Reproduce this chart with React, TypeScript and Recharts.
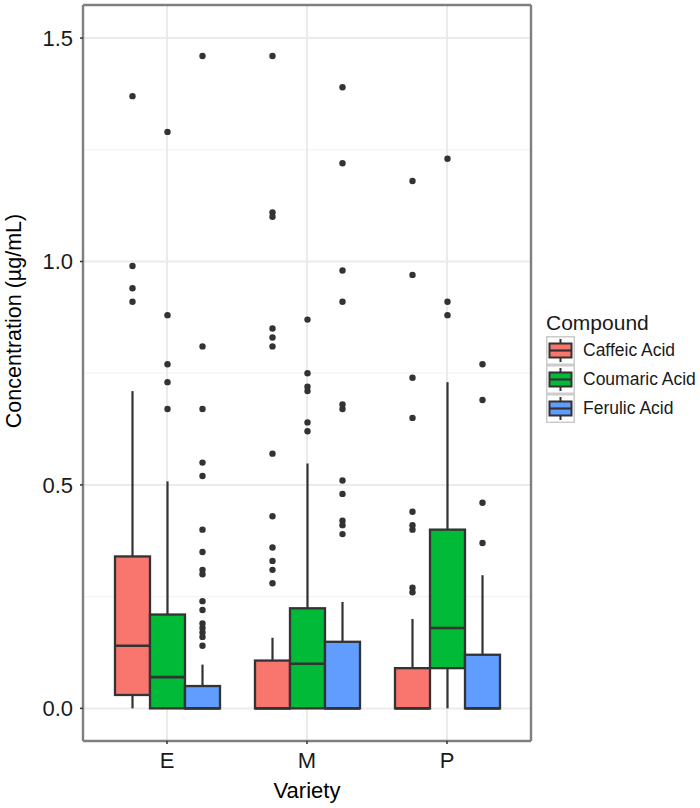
import {
  ComposedChart,
  Bar,
  XAxis,
  YAxis,
  CartesianGrid,
  Legend,
  Label,
} from 'recharts';

const FONT = '"Liberation Sans", Arial, Helvetica, sans-serif';

const VARIETIES = ['E', 'M', 'P'];

// [lower whisker, q1, median, q3, upper whisker] per variety
const CAFFEIC_STATS = [
  [0, 0.03, 0.14, 0.34, 0.71],
  [0, 0, 0, 0.107, 0.158],
  [0, 0, 0, 0.09, 0.2],
];
const COUMARIC_STATS = [
  [0, 0, 0.07, 0.21, 0.508],
  [0, 0, 0.1, 0.224, 0.548],
  [0, 0.09, 0.18, 0.4, 0.73],
];
const FERULIC_STATS = [
  [0, 0, 0, 0.05, 0.098],
  [0, 0, 0, 0.149, 0.238],
  [0, 0, 0, 0.12, 0.298],
];

const CAFFEIC_OUTLIERS = [
  [1.37, 0.99, 0.94, 0.91],
  [1.46, 1.11, 1.1, 0.85, 0.83, 0.81, 0.57, 0.43, 0.36, 0.33, 0.31, 0.28],
  [1.18, 0.97, 0.74, 0.65, 0.44, 0.41, 0.4, 0.27, 0.26],
];
const COUMARIC_OUTLIERS = [
  [1.29, 0.88, 0.77, 0.73, 0.67],
  [0.87, 0.75, 0.72, 0.71, 0.64, 0.62],
  [1.23, 0.91, 0.88],
];
const FERULIC_OUTLIERS = [
  [1.46, 0.81, 0.67, 0.55, 0.52, 0.4, 0.35, 0.31, 0.3, 0.24, 0.22, 0.19, 0.18, 0.17, 0.16, 0.14],
  [1.39, 1.22, 0.98, 0.91, 0.68, 0.67, 0.51, 0.48, 0.42, 0.41, 0.39],
  [0.77, 0.69, 0.46, 0.37],
];

const Y_TICKS = [0, 0.5, 1, 1.5];
const Y_MINOR = [0.25, 0.75, 1.25];
const Y_DOMAIN = [-0.073, 1.574];

const COMPOUNDS = [
  { key: 'caffeic', label: 'Caffeic Acid', color: '#F8766D', stats: CAFFEIC_STATS, outliers: CAFFEIC_OUTLIERS },
  { key: 'coumaric', label: 'Coumaric Acid', color: '#00BA38', stats: COUMARIC_STATS, outliers: COUMARIC_OUTLIERS },
  { key: 'ferulic', label: 'Ferulic Acid', color: '#619CFF', stats: FERULIC_STATS, outliers: FERULIC_OUTLIERS },
];

const data = VARIETIES.map((variety, i) => {
  const row: any = { variety };
  COMPOUNDS.forEach((c) => {
    const [lo, q1, med, q3, hi] = c.stats[i];
    row[c.key] = [lo, hi];
    row[c.key + 'Box'] = { lo, q1, med, q3, hi, out: c.outliers[i] };
  });
  return row;
});

const LINE = '#333333';
const BORDER = { stroke: '#7f7f7f', strokeWidth: 2.4 };

// draws whiskers, box, median and outliers inside the range bar's scale
function boxShape(key: string, color: string) {
  return (props: any) => {
    const { x, y, width, height, payload } = props;
    const s = payload[key + 'Box'];
    const top = Math.min(y, y + height);
    const bot = Math.max(y, y + height);
    const k = (bot - top) / (s.hi - s.lo);
    const py = (v: number) => bot - (v - s.lo) * k;
    const cx = x + width / 2;
    return (
      <g>
        <line x1={cx} x2={cx} y1={py(s.hi)} y2={py(s.q3)} stroke={LINE} strokeWidth={2.2} />
        <line x1={cx} x2={cx} y1={py(s.q1)} y2={py(s.lo)} stroke={LINE} strokeWidth={2.2} />
        <rect
          x={x}
          y={py(s.q3)}
          width={width}
          height={py(s.q1) - py(s.q3)}
          fill={color}
          stroke={LINE}
          strokeWidth={2.3}
        />
        <line x1={x} x2={x + width} y1={py(s.med)} y2={py(s.med)} stroke={LINE} strokeWidth={2.6} />
        {s.out.map((v: number, i: number) => (
          <circle key={i} cx={cx} cy={py(v)} r={3.2} fill={LINE} />
        ))}
      </g>
    );
  };
}

function LegendKey({ color }: { color: string }) {
  return (
    <svg width={29} height={29} style={{ display: 'block' }}>
      <rect x={0.75} y={0.75} width={27.5} height={27.5} fill="#fff" stroke="#cccccc" strokeWidth={1.5} />
      <line x1={14.5} x2={14.5} y1={3} y2={26} stroke={LINE} strokeWidth={2} />
      <rect x={3.5} y={7.5} width={22} height={14} fill={color} stroke={LINE} strokeWidth={2} />
      <line x1={3.5} x2={25.5} y1={14.5} y2={14.5} stroke={LINE} strokeWidth={2.2} />
    </svg>
  );
}

const renderLegend = () => (
  <div style={{ fontFamily: FONT, color: '#1a1a1a' }}>
    <div style={{ fontSize: 21, lineHeight: '26px', height: 26 }}>Compound</div>
    {COMPOUNDS.map((c) => (
      <div key={c.key} style={{ display: 'flex', alignItems: 'center', height: 29 }}>
        <LegendKey color={c.color} />
        <span style={{ fontSize: 17.5, marginLeft: 8 }}>{c.label}</span>
      </div>
    ))}
  </div>
);

export default function App() {
  return (
    <div style={{ position: 'absolute', left: 0, top: 0, fontFamily: FONT }}>
      <ComposedChart
        width={700}
        height={808}
        data={data}
        margin={{ top: 4, right: 168, bottom: 0, left: 0 }}
        barGap={0}
      >
        {/* minor then major grid, both behind the boxes */}
        <CartesianGrid stroke="#f3f3f3" strokeWidth={1.2} vertical={false} horizontalValues={Y_MINOR} />
        <CartesianGrid stroke="#ebebeb" strokeWidth={2} />
        <XAxis
          dataKey="variety"
          padding={{ left: 14, right: 14 }}
          axisLine={BORDER}
          tickSize={3}
          tickMargin={8}
          tickLine={{ stroke: LINE, strokeWidth: 1.5 }}
          tick={{ fontSize: 22, fill: '#1a1a1a', fontFamily: FONT }}
          height={67}
        >
          <Label value="Variety" position="insideBottom" offset={10} fontSize={22} fill="#000" fontFamily={FONT} />
        </XAxis>
        <XAxis
          xAxisId="top"
          dataKey="variety"
          orientation="top"
          padding={{ left: 14, right: 14 }}
          height={1}
          axisLine={BORDER}
          tick={false}
          tickLine={false}
        />
        <YAxis
          type="number"
          domain={Y_DOMAIN}
          allowDataOverflow
          ticks={Y_TICKS}
          tickFormatter={(v: number) => v.toFixed(1)}
          axisLine={BORDER}
          tickSize={3}
          tickMargin={7}
          tickLine={{ stroke: LINE, strokeWidth: 1.5 }}
          tick={{ fontSize: 22, fill: '#1a1a1a', fontFamily: FONT }}
          width={83}
        >
          <Label
            content={({ viewBox }: any) => {
              const cy = viewBox.y + viewBox.height / 2 - 52;
              return (
                <text
                  x={21}
                  y={cy}
                  transform={`rotate(-90, 21, ${cy})`}
                  textAnchor="middle"
                  fontSize={21.5}
                  fill="#000"
                  fontFamily={FONT}
                >
                  Concentration (µg/mL)
                </text>
              );
            }}
          />
        </YAxis>
        <YAxis
          yAxisId="right"
          orientation="right"
          type="number"
          domain={Y_DOMAIN}
          width={1}
          axisLine={BORDER}
          tick={false}
          tickLine={false}
        />
        {COMPOUNDS.map((c) => (
          <Bar
            key={c.key}
            dataKey={c.key}
            barSize={35}
            fill={c.color}
            shape={boxShape(c.key, c.color)}
            isAnimationActive={false}
          />
        ))}
        <Legend
          layout="horizontal"
          verticalAlign="middle"
          align="center"
          content={renderLegend}
          wrapperStyle={{ left: 546, top: 310, width: 150, height: 120 }}
        />
      </ComposedChart>
    </div>
  );
}
